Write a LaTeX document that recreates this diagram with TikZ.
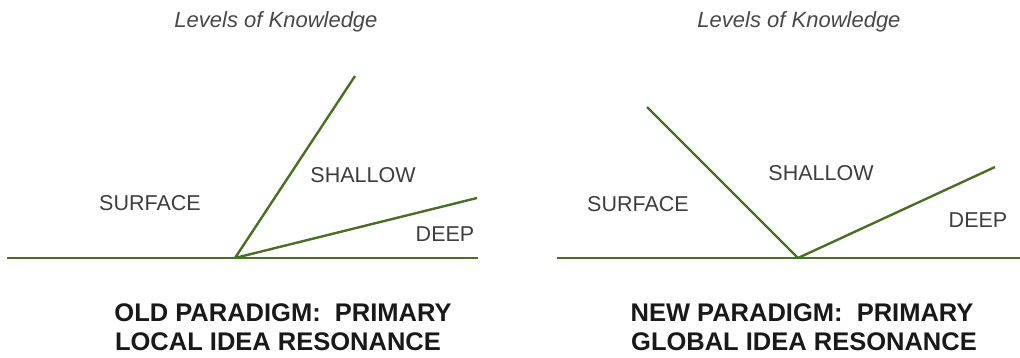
\documentclass[tikz,border=0pt]{standalone}
\usepackage{fontspec}
\setmainfont{Liberation Sans}
\definecolor{LevelGreen}{RGB}{72,112,34}
\definecolor{LabelGray}{RGB}{62,62,62}
\definecolor{TitleGray}{RGB}{72,72,72}
\usepackage{tikz}
\usetikzlibrary{positioning}

\begin{document}
\begin{tikzpicture}[
    x=1pt, y=-1pt,
    level/.style={draw=LevelGreen, line width=2.4pt},
    lvtext/.style={anchor=base, text=LabelGray, inner sep=0pt, font=\fontsize{21.5}{24}\selectfont},
    heading/.style={anchor=base, text=TitleGray, inner sep=0pt, font=\fontsize{22}{24}\selectfont\itshape},
    paradigm/.style={anchor=base, text=black!90, inner sep=0pt, font=\fontsize{25.5}{29}\selectfont\bfseries}
]
    \useasboundingbox (0,0) rectangle (1020,357);
    % old paradigm
    \node[heading] (oldtitle) at (276, 27) {Levels of Knowledge};
    \coordinate (oldleft)  at (7, 258);
    \coordinate (oldright) at (478, 258);
    \coordinate (oldvertex) at (235, 258);
    \coordinate (oldshallow) at (355, 76);
    \coordinate (olddeep) at (477, 198);
    \draw[level] (oldleft) -- (oldright);
    \draw[level] (oldvertex) -- (oldshallow);
    \draw[level] (oldvertex) -- (olddeep);
    \node[lvtext] (oldsurface) at (150, 210) {SURFACE};
    \node[lvtext] (oldshallowlbl) at (363, 182) {SHALLOW};
    \node[lvtext] (olddeeplbl) at (445, 241) {DEEP};
    \node[paradigm] (oldline1) at (283, 321) {OLD PARADIGM:\ \ PRIMARY};
    \node[paradigm] (oldline2) at (278, 350) {LOCAL IDEA RESONANCE};
    % new paradigm
    \node[heading] (newtitle) at (799, 27) {Levels of Knowledge};
    \coordinate (newleft)  at (557, 258);
    \coordinate (newright) at (1020, 258);
    \coordinate (newvertex) at (798, 258);
    \coordinate (newsurf) at (647, 107);
    \coordinate (newdeep) at (995, 167);
    \draw[level] (newleft) -- (newright);
    \draw[level] (newvertex) -- (newsurf);
    \draw[level] (newvertex) -- (newdeep);
    \node[lvtext] (newsurface) at (638, 211) {SURFACE};
    \node[lvtext] (newshallowlbl) at (821, 180) {SHALLOW};
    \node[lvtext] (newdeeplbl) at (978, 227) {DEEP};
    \node[paradigm] (newline1) at (802, 321) {NEW PARADIGM:\ \ PRIMARY};
    \node[paradigm] (newline2) at (804, 350) {GLOBAL IDEA RESONANCE};
\end{tikzpicture}
\end{document}
